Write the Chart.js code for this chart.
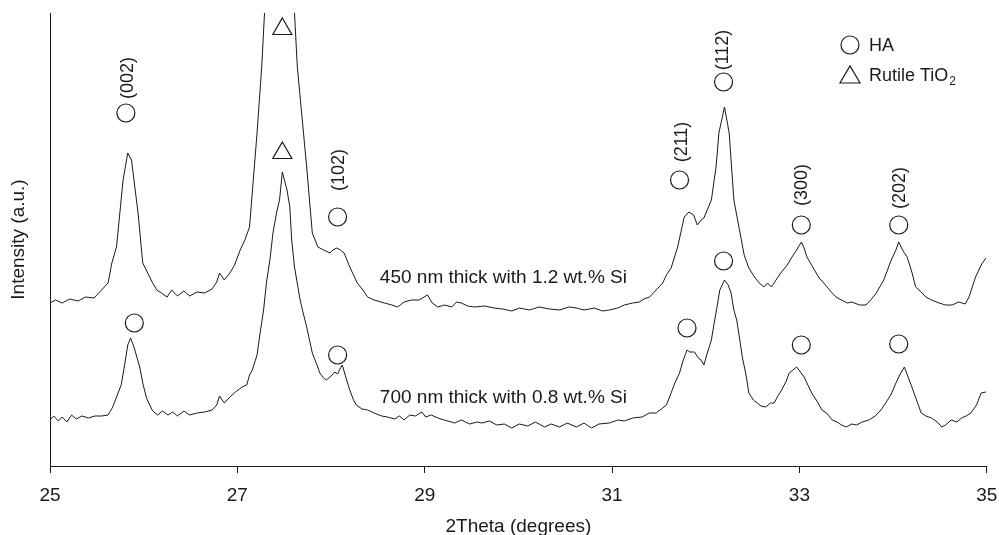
<!DOCTYPE html>
<html>
<head>
<meta charset="utf-8">
<script src="https://cdn.jsdelivr.net/npm/chart.js@4"></script>
<style>
  html, body { margin: 0; padding: 0; background: #fff; }
  #wrap { width: 999px; height: 535px; }
</style>
</head>
<body>
<div id="wrap"><canvas id="xrd"></canvas></div>
<script>
/* =========================
   DATA
========================= */
const thetaTop = [25.00,25.06,25.13,25.21,25.30,25.38,25.47,25.53,25.62,25.66,25.71,25.78,25.83,25.87,25.94,25.99,26.09,26.14,26.19,26.25,26.30,26.36,26.43,26.49,26.57,26.65,26.73,26.78,26.81,26.86,26.92,26.97,27.03,27.08,27.13,27.17,27.21,27.26,27.29,27.37,27.45,27.54,27.61,27.64,27.74,27.80,27.86,27.92,27.99,28.02,28.06,28.10,28.14,28.20,28.28,28.34,28.39,28.46,28.57,28.65,28.71,28.78,28.86,28.94,29.03,29.08,29.14,29.21,29.29,29.34,29.39,29.46,29.53,29.64,29.74,29.83,29.93,30.01,30.12,30.22,30.33,30.44,30.54,30.62,30.70,30.81,30.90,30.97,31.06,31.13,31.22,31.29,31.34,31.40,31.47,31.54,31.58,31.63,31.70,31.77,31.82,31.87,31.91,31.95,31.98,32.06,32.09,32.11,32.14,32.20,32.25,32.30,32.36,32.41,32.46,32.52,32.57,32.62,32.66,32.70,32.75,32.80,32.87,32.92,32.97,33.02,33.05,33.08,33.16,33.21,33.26,33.34,33.39,33.45,33.51,33.56,33.64,33.71,33.76,33.82,33.90,33.98,34.03,34.06,34.10,34.15,34.20,34.24,34.30,34.35,34.41,34.49,34.56,34.63,34.70,34.77,34.81,34.88,34.94,34.99];
const intensityTop = [163,166,163,167,165,169,168,174,183,203,219,286,313,306,253,203,184,176,173,169,176,170,175,170,174,173,177,184,193,186,193,201,216,226,239,286,333,399,453,506,526,506,453,399,299,233,219,216,213,216,218,216,213,199,183,176,169,166,163,161,159,164,166,166,171,163,159,161,159,164,163,160,159,160,158,157,155,158,156,159,157,156,159,158,156,158,155,156,158,161,163,164,167,169,176,183,191,198,219,249,254,251,241,246,248,266,286,299,333,359,333,266,236,211,198,189,183,179,183,179,186,193,201,209,216,224,218,209,196,188,183,174,169,166,163,164,161,161,166,173,186,206,216,224,216,209,194,179,174,169,166,163,161,161,164,162,169,189,201,208];

const thetaBottom = [25.00,25.04,25.09,25.13,25.18,25.23,25.28,25.34,25.41,25.48,25.55,25.62,25.67,25.71,25.76,25.80,25.83,25.86,25.90,25.93,25.96,25.99,26.03,26.09,26.12,26.15,26.20,26.26,26.31,26.36,26.43,26.49,26.57,26.65,26.73,26.78,26.81,26.86,26.92,26.98,27.05,27.10,27.13,27.16,27.21,27.24,27.28,27.31,27.35,27.38,27.42,27.45,27.48,27.53,27.56,27.58,27.61,27.67,27.70,27.74,27.77,27.80,27.85,27.88,27.92,27.95,28.00,28.04,28.07,28.10,28.12,28.16,28.20,28.24,28.27,28.33,28.39,28.46,28.54,28.60,28.68,28.73,28.78,28.84,28.90,28.97,29.01,29.07,29.14,29.21,29.32,29.39,29.48,29.56,29.61,29.69,29.77,29.85,29.93,30.01,30.10,30.18,30.28,30.35,30.44,30.52,30.62,30.70,30.78,30.86,30.97,31.06,31.13,31.22,31.32,31.40,31.47,31.54,31.58,31.63,31.67,31.72,31.76,31.80,31.83,31.88,31.92,31.95,31.98,32.01,32.06,32.09,32.12,32.15,32.20,32.24,32.27,32.30,32.33,32.36,32.39,32.43,32.46,32.51,32.55,32.59,32.64,32.69,32.73,32.77,32.81,32.86,32.89,32.93,32.97,33.01,33.05,33.09,33.13,33.18,33.24,33.29,33.35,33.40,33.45,33.50,33.56,33.61,33.67,33.74,33.81,33.87,33.92,33.98,34.03,34.07,34.12,34.16,34.20,34.25,34.30,34.35,34.41,34.47,34.52,34.56,34.62,34.68,34.73,34.78,34.83,34.89,34.94,34.99];
const intensityBottom = [46,50,45,49,44,51,47,50,48,50,50,51,59,69,81,103,121,128,118,108,98,83,68,56,53,51,55,51,54,50,55,51,53,54,56,61,70,63,69,74,79,81,91,96,111,131,156,183,208,233,254,266,294,276,259,226,199,166,154,139,126,113,101,93,88,86,90,94,92,98,101,88,76,66,61,57,56,53,50,49,47,50,46,51,50,54,49,51,48,46,43,46,42,44,43,45,41,42,38,42,40,44,39,42,39,43,39,43,38,42,43,46,45,48,49,53,53,58,61,73,83,93,106,116,114,114,108,106,101,111,126,143,159,176,186,181,173,156,146,128,109,91,73,66,63,60,59,63,63,70,76,85,93,96,99,94,89,81,73,66,56,53,46,44,41,39,42,41,44,46,50,56,63,72,83,91,99,89,79,66,53,50,48,44,39,41,46,44,48,50,53,61,73,74];

// HA reflections (circle markers) and rutile TiO2 (triangles)
const haTheta = [25.81, 28.07, 31.72, 32.19, 33.02, 34.06];
const haTopY = [353, 249, 286, 384, 241, 241];
const haBottomTheta = [25.90, 28.07, 31.80, 32.19, 33.02, 34.06];
const haBottomY = [143, 111, 138, 205, 121, 122];
const rutileTheta = [27.48, 27.48];
const rutileY = [437, 313];

const hklLabels = ["(002)", "(102)", "(211)", "(112)", "(300)", "(202)"];
const hklTheta = [25.82, 28.07, 31.74, 32.17, 33.02, 34.06];
const hklY = [388, 296, 324, 416, 281, 278];

const xTicks = [25, 27, 29, 31, 33, 35];
const sampleLabels = ["450 nm thick with 1.2 wt.% Si", "700 nm thick with 0.8 wt.% Si"];
const sampleLabelTheta = [29.84, 29.84];
const sampleLabelY = [188, 68];

/* =========================
   STYLE
========================= */
const FONT = "'Liberation Sans', Arial, sans-serif";
const INK = "#1a1a1a";

const toPts = (xs, ys) => xs.map((x, i) => ({ x, y: ys[i] }));

/* =========================
   TEXT PLUGIN (hkl, sample names, legend)
========================= */
const textPlugin = {
  id: "xrdText",
  afterDatasetsDraw(chart) {
    const { ctx, scales } = chart;
    const sx = scales.x, sy = scales.y;
    ctx.save();
    ctx.fillStyle = INK;
    ctx.font = `18px ${FONT}`;
    ctx.textBaseline = "middle";
    ctx.textAlign = "center";

    hklLabels.forEach((lab, i) => {
      ctx.save();
      ctx.translate(sx.getPixelForValue(hklTheta[i]), sy.getPixelForValue(hklY[i]));
      ctx.rotate(-Math.PI / 2);
      ctx.fillText(lab, 0, 1);
      ctx.restore();
    });

    ctx.font = `19px ${FONT}`;
    sampleLabels.forEach((lab, i) => {
      ctx.fillText(lab, sx.getPixelForValue(sampleLabelTheta[i]), sy.getPixelForValue(sampleLabelY[i]));
    });

    // legend box, top right
    const lx = 850, tx = 869;
    ctx.font = `18px ${FONT}`;
    ctx.strokeStyle = INK;
    ctx.lineWidth = 1.2;
    ctx.beginPath();
    ctx.arc(lx, 45, 9, 0, Math.PI * 2);
    ctx.stroke();
    ctx.beginPath();
    ctx.moveTo(lx - 10, 83);
    ctx.lineTo(lx + 10, 83);
    ctx.lineTo(lx, 66);
    ctx.closePath();
    ctx.stroke();

    ctx.textAlign = "left";
    ctx.fillText("HA", tx, 46);
    ctx.fillText("Rutile TiO", tx, 76);
    const w = ctx.measureText("Rutile TiO").width;
    ctx.font = `12px ${FONT}`;
    ctx.fillText("2", tx + w + 1, 82);
    ctx.restore();
  },
};

/* =========================
   CHART
========================= */
new Chart(document.getElementById("xrd"), {
  type: "line",
  data: {
    datasets: [
      {
        label: "450 nm",
        data: toPts(thetaTop, intensityTop),
        borderColor: INK,
        borderWidth: 1,
        pointRadius: 0,
        tension: 0,
      },
      {
        label: "700 nm",
        data: toPts(thetaBottom, intensityBottom),
        borderColor: INK,
        borderWidth: 1,
        pointRadius: 0,
        tension: 0,
      },
      {
        type: "scatter",
        label: "HA",
        data: toPts(haTheta, haTopY).concat(toPts(haBottomTheta, haBottomY)),
        pointStyle: "circle",
        pointRadius: 9,
        borderColor: INK,
        borderWidth: 1.2,
        backgroundColor: "rgba(0,0,0,0)",
      },
      {
        type: "scatter",
        label: "Rutile TiO2",
        data: toPts(rutileTheta, rutileY),
        pointStyle: "triangle",
        pointRadius: 11,
        borderColor: INK,
        borderWidth: 1.2,
        backgroundColor: "rgba(0,0,0,0)",
      },
    ],
  },
  options: {
    responsive: true,
    maintainAspectRatio: false,
    animation: false,
    events: [],
    layout: { padding: { top: 13, right: 0, left: 0, bottom: 0 } },
    plugins: {
      legend: { display: false },
      tooltip: { enabled: false },
    },
    scales: {
      x: {
        type: "linear",
        min: 25,
        max: 35,
        afterBuildTicks: (s) => { s.ticks = xTicks.map((v) => ({ value: v })); },
        afterFit: (s) => {
          s.height = 69;
          s.paddingLeft = 0;
          s.paddingRight = 11;
        },
        ticks: { color: INK, font: { family: FONT, size: 19 }, padding: 11 },
        grid: { display: true, drawOnChartArea: false, drawTicks: true, tickLength: 7, color: INK },
        border: { display: true, color: INK, width: 1 },
        title: {
          display: true,
          text: "2Theta (degrees)",
          color: INK,
          font: { family: FONT, size: 19, lineHeight: 1 },
          padding: { top: 0, bottom: -1 },
        },
      },
      y: {
        min: 0,
        max: 453,
        afterFit: (s) => { s.width = 50; },
        ticks: { display: false },
        grid: { display: false },
        border: { display: true, color: INK, width: 1 },
        title: {
          display: true,
          text: "Intensity (a.u.)",
          color: INK,
          font: { family: FONT, size: 19, lineHeight: 1 },
          padding: { top: 9, bottom: 0 },
        },
      },
    },
  },
  plugins: [textPlugin],
});
</script>
</body>
</html>
